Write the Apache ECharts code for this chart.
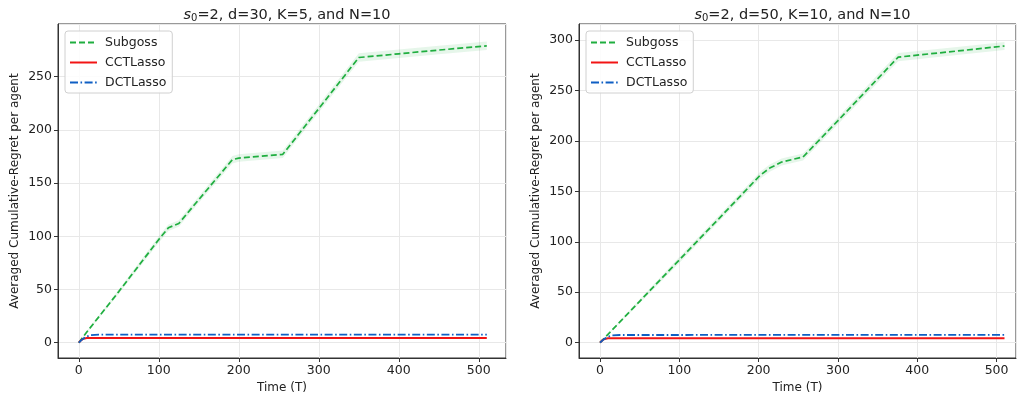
<!DOCTYPE html>
<html><head><meta charset="utf-8">
<script src="https://cdn.jsdelivr.net/npm/echarts@6/dist/echarts.min.js"></script>
<style>html,body{margin:0;padding:0;background:#fff}#c{width:1017px;height:401px}</style>
</head><body><div id="c"></div>
<script>
// ---------- data ----------
const seriesNames = ['Subgoss', 'CCTLasso', 'DCTLasso'];
const panelTitles = [
  {d: 30, K: 5, N: 10},
  {d: 50, K: 10, N: 10}
];
// Left panel (d=30, K=5)
const leftSubgossT   = [0, 10, 50, 100, 112, 125, 150, 192, 200, 255, 300, 350, 400, 450, 510];
const leftSubgossY   = [0, 10, 48, 97, 108, 112, 134.5, 172, 173.5, 177, 220, 268, 271.5, 275, 279];
const leftSubgossStd = [0, 1, 2, 3, 3, 3, 3, 3.5, 3.5, 3.5, 3.5, 4, 4, 4, 4];
const leftCCTT = [0, 3, 6, 10, 20, 510];
const leftCCTY = [0, 2.4, 3.7, 4.3, 4.4, 4.4];
const leftDCTT = [0, 5, 10, 15, 25, 510];
const leftDCTY = [0, 3.5, 5.8, 7.0, 7.5, 7.6];
// Right panel (d=50, K=10)
const rightSubgossT   = [0, 50, 100, 150, 202, 214, 229, 245, 256, 300, 350, 376, 450, 510];
const rightSubgossY   = [0, 41, 82, 123, 166, 173, 179, 182, 184, 220, 261.5, 283, 289, 294];
const rightSubgossStd = [0, 2, 3, 3, 3.5, 3.5, 3.5, 3.5, 3.5, 3.5, 4, 4, 4, 4];
const rightCCTT = [0, 3, 6, 10, 20, 510];
const rightCCTY = [0, 2.4, 3.7, 4.3, 4.4, 4.4];
const rightDCTT = [0, 5, 10, 15, 25, 510];
const rightDCTY = [0, 3.5, 5.8, 7.1, 7.6, 7.7];

// ---------- styles ----------
const GREEN = '#1fae3f', RED = '#f21414', BLUE = '#0f5fc4', BAND = 'rgba(31,174,63,0.11)';
const FONT = 'DejaVu Sans';
const TXT = '#222';

function zip(xs, ys) { return xs.map((x, i) => [x, ys[i]]); }

const panels = [
  {t: leftSubgossT, y: leftSubgossY, s: leftSubgossStd, ct: leftCCTT, cy: leftCCTY, dt: leftDCTT, dy: leftDCTY,
   grid: {left: 58, top: 24, width: 448, height: 334}, xmin: -26, xmax: 534, ymin: -14.4, ymax: 299.5, cx: 282},
  {t: rightSubgossT, y: rightSubgossY, s: rightSubgossStd, ct: rightCCTT, cy: rightCCTY, dt: rightDCTT, dy: rightDCTY,
   grid: {left: 579, top: 24, width: 437, height: 334}, xmin: -26.5, xmax: 524.5, ymin: -15.2, ymax: 315.8, cx: 797.5}
];

const option = {
  animation: false,
  backgroundColor: '#fff',
  textStyle: {fontFamily: FONT},
  title: panels.map((p, i) => ({
    text: '{i|s}{sub|0}=2, d=' + panelTitles[i].d + ', K=' + panelTitles[i].K + ', and N=' + panelTitles[i].N,
    left: p.cx, top: 2, textAlign: 'center',
    textStyle: {fontFamily: FONT, fontSize: 14.5, fontWeight: 'normal', color: TXT,
      rich: {i: {fontFamily: FONT, fontSize: 14.5, fontStyle: 'italic', color: TXT},
             sub: {fontFamily: FONT, fontSize: 10, color: TXT, verticalAlign: 'bottom', padding: [6, 0, 0, 0]}}}
  })),
  legend: panels.map((p, i) => ({
    data: seriesNames, orient: 'vertical',
    left: p.grid.left + 7, top: 31,
    itemWidth: 27, itemHeight: 12, itemGap: 7,
    backgroundColor: 'rgba(255,255,255,0.85)', borderColor: '#d0d0d0', borderWidth: 1, borderRadius: 3,
    padding: [5, 6, 4, 4],
    itemStyle: {opacity: 0},
    textStyle: {fontFamily: FONT, fontSize: 12.5, color: TXT, padding: [0, 0, 0, 3]},
    selectedMode: false
  })),
  grid: panels.map(p => Object.assign({containLabel: false, show: true, borderColor: '#333', borderWidth: 1, backgroundColor: 'transparent'}, p.grid)),
  xAxis: panels.map((p, i) => ({
    type: 'value', gridIndex: i, min: p.xmin, max: p.xmax, splitNumber: 5,
    name: 'Time (T)', nameLocation: 'middle', nameGap: 23,
    nameTextStyle: {fontFamily: FONT, fontSize: 12, color: TXT},
    axisLine: {show: true, onZero: false, lineStyle: {color: '#333', width: 1}},
    axisTick: {show: true, inside: false, length: 4, lineStyle: {color: '#333'}},
    axisLabel: {fontFamily: FONT, fontSize: 12.5, color: TXT, margin: 6, showMinLabel: false, showMaxLabel: false},
    splitLine: {show: true, lineStyle: {color: '#e8e8e8', width: 1}}
  })),
  yAxis: panels.map((p, i) => ({
    type: 'value', gridIndex: i, min: p.ymin, max: p.ymax, splitNumber: 6,
    name: 'Averaged Cumulative-Regret per agent', nameLocation: 'middle', nameGap: 37,
    nameTextStyle: {fontFamily: FONT, fontSize: 12, color: TXT},
    axisLine: {show: true, onZero: false, lineStyle: {color: '#333', width: 1}},
    axisTick: {show: true, inside: false, length: 4, lineStyle: {color: '#333'}},
    axisLabel: {fontFamily: FONT, fontSize: 12.5, color: TXT, margin: 6, showMinLabel: false, showMaxLabel: false},
    splitLine: {show: true, lineStyle: {color: '#e8e8e8', width: 1}}
  })),
  series: []
};

panels.forEach((p, i) => {
  const lower = p.y.map((v, k) => v - p.s[k]);
  const upper = p.y.map((v, k) => v + p.s[k]);
  const bandData = p.t.map((x, k) => [x, lower[k], upper[k]]);
  option.series.push(
    {type: 'custom', name: 'band' + i, xAxisIndex: i, yAxisIndex: i, data: bandData, silent: true, z: 1,
     encode: {x: 0, y: [1, 2]},
     renderItem: function (params, api) {
       if (params.dataIndex !== 0) return null;
       const pts = [];
       for (let k = 0; k < bandData.length; k++) pts.push(api.coord([bandData[k][0], bandData[k][2]]));
       for (let k = bandData.length - 1; k >= 0; k--) pts.push(api.coord([bandData[k][0], bandData[k][1]]));
       return {type: 'polygon', shape: {points: pts}, style: {fill: BAND, stroke: null}};
     }},
    {type: 'line', name: 'Subgoss', xAxisIndex: i, yAxisIndex: i, data: zip(p.t, p.y), symbol: 'none',
     itemStyle: {color: GREEN}, lineStyle: {color: GREEN, width: 1.7, type: [6, 3]}, z: 3},
    {type: 'line', name: 'CCTLasso', xAxisIndex: i, yAxisIndex: i, data: zip(p.ct, p.cy), symbol: 'none',
     itemStyle: {color: RED}, lineStyle: {color: RED, width: 2}, z: 4},
    {type: 'line', name: 'DCTLasso', xAxisIndex: i, yAxisIndex: i, data: zip(p.dt, p.dy), symbol: 'none',
     itemStyle: {color: BLUE}, lineStyle: {color: BLUE, width: 1.8, type: [8, 2.5, 1.6, 2.5]}, z: 5}
  );
});

const chart = echarts.init(document.getElementById('c'), null, {renderer: 'canvas'});
chart.setOption(option);
</script>
</body></html>
